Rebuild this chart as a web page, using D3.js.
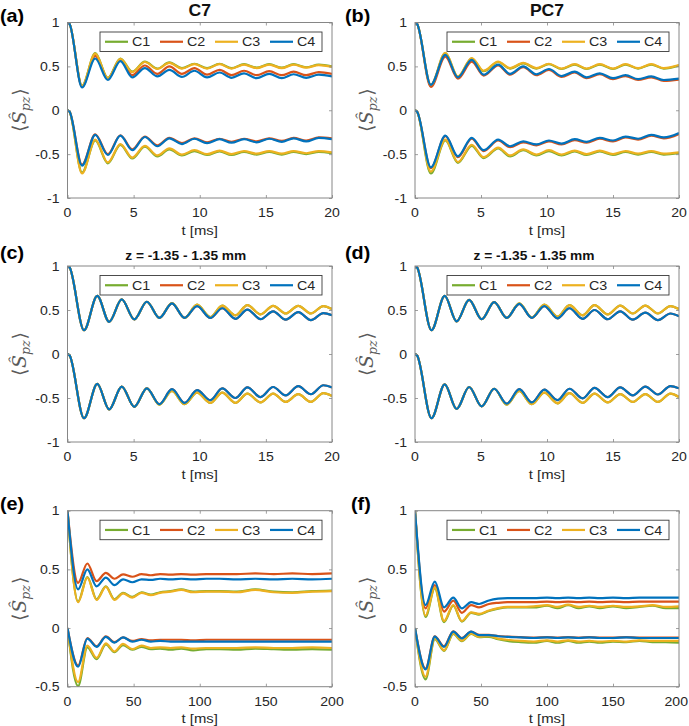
<!DOCTYPE html>
<html><head><meta charset="utf-8">
<script src="https://cdn.jsdelivr.net/npm/d3@7"></script>
<style>body{margin:0;background:#fff}svg{display:block}</style>
</head><body><svg id="chart" width="689" height="726"></svg>
<script>
// ---------- data ----------
const seriesNames = ["C1", "C2", "C3", "C4"];
const seriesColors = ["#77AC30", "#D95319", "#EDB120", "#0072BD"];
const xTicksShort = [0, 5, 10, 15, 20];
const xTicksLong = [0, 50, 100, 150, 200];
const yTicksFull = [-1, -0.5, 0, 0.5, 1];
const yTicksHalf = [-0.5, 0, 0.5, 1];
const yTickText = {"-1": "-1", "-0.5": "-0.5", "0": "0", "0.5": "0.5", "1": "1"};
const panelLabels = ["(a)", "(b)", "(c)", "(d)", "(e)", "(f)"];
const panelTitles = ["C7", "PC7", "z = -1.35 - 1.35 mm", "z = -1.35 - 1.35 mm", "", ""];
const xLabel = "t [ms]";

// (a) C7
const tA = [0, 0.15, 1.1, 2.1, 3.05, 4.0, 4.9, 5.85, 6.8, 7.7, 8.65, 9.6, 10.55, 11.5, 12.4, 13.35, 14.3, 15.25, 16.2, 17.1, 18.05, 19.0, 20];
const aUp1 = [1, 0.985, 0.28, 0.65, 0.37, 0.59, 0.44, 0.555, 0.475, 0.545, 0.48, 0.53, 0.48, 0.53, 0.48, 0.525, 0.485, 0.525, 0.485, 0.525, 0.49, 0.52, 0.5];
const aUp2 = [1, 0.985, 0.27, 0.62, 0.36, 0.575, 0.40, 0.51, 0.415, 0.50, 0.415, 0.48, 0.405, 0.46, 0.40, 0.45, 0.40, 0.445, 0.40, 0.44, 0.40, 0.435, 0.415];
const aUp3 = [1, 0.985, 0.275, 0.645, 0.365, 0.585, 0.435, 0.55, 0.47, 0.54, 0.475, 0.525, 0.475, 0.525, 0.475, 0.52, 0.48, 0.52, 0.48, 0.52, 0.485, 0.515, 0.495];
const aUp4 = [1, 0.985, 0.26, 0.59, 0.345, 0.56, 0.375, 0.48, 0.385, 0.46, 0.38, 0.45, 0.375, 0.43, 0.37, 0.42, 0.365, 0.415, 0.365, 0.41, 0.37, 0.405, 0.385];
const aLo1 = [0, -0.015, -0.71, -0.345, -0.605, -0.395, -0.55, -0.415, -0.525, -0.445, -0.515, -0.465, -0.51, -0.47, -0.51, -0.475, -0.505, -0.475, -0.505, -0.475, -0.5, -0.475, -0.49];
const aLo2 = [0, -0.015, -0.62, -0.275, -0.5, -0.285, -0.445, -0.30, -0.40, -0.315, -0.375, -0.32, -0.365, -0.325, -0.36, -0.325, -0.355, -0.32, -0.35, -0.315, -0.345, -0.31, -0.32];
const aLo3 = [0, -0.015, -0.72, -0.335, -0.595, -0.385, -0.54, -0.405, -0.515, -0.435, -0.505, -0.455, -0.5, -0.46, -0.5, -0.465, -0.495, -0.465, -0.495, -0.465, -0.49, -0.465, -0.48];
const aLo4 = [0, -0.015, -0.63, -0.28, -0.51, -0.29, -0.455, -0.305, -0.41, -0.32, -0.385, -0.325, -0.375, -0.33, -0.37, -0.33, -0.365, -0.325, -0.36, -0.32, -0.355, -0.315, -0.33];

// (b) PC7
const tB = [0, 0.15, 1.2, 2.3, 3.25, 4.3, 5.2, 6.3, 7.2, 8.2, 9.2, 10.15, 11.1, 12.1, 13.0, 14.0, 15.0, 15.95, 16.9, 17.9, 18.85, 20];
const bUp1 = [1, 0.985, 0.285, 0.65, 0.38, 0.59, 0.445, 0.55, 0.475, 0.535, 0.475, 0.525, 0.47, 0.52, 0.47, 0.52, 0.47, 0.52, 0.475, 0.52, 0.475, 0.51];
const bUp2 = [1, 0.985, 0.265, 0.61, 0.36, 0.555, 0.395, 0.51, 0.405, 0.49, 0.40, 0.46, 0.38, 0.43, 0.365, 0.41, 0.355, 0.39, 0.345, 0.375, 0.335, 0.35];
const bUp3 = [1, 0.985, 0.29, 0.655, 0.385, 0.595, 0.45, 0.555, 0.48, 0.54, 0.48, 0.53, 0.475, 0.525, 0.475, 0.525, 0.475, 0.525, 0.48, 0.525, 0.48, 0.515];
const bUp4 = [1, 0.985, 0.29, 0.63, 0.375, 0.575, 0.405, 0.52, 0.415, 0.50, 0.41, 0.47, 0.39, 0.44, 0.375, 0.42, 0.365, 0.40, 0.355, 0.385, 0.345, 0.36];
const bLo1 = [0, -0.015, -0.72, -0.345, -0.6, -0.405, -0.545, -0.435, -0.525, -0.455, -0.515, -0.465, -0.515, -0.47, -0.51, -0.47, -0.51, -0.475, -0.505, -0.475, -0.505, -0.49];
const bLo2 = [0, -0.015, -0.66, -0.295, -0.535, -0.325, -0.465, -0.345, -0.42, -0.365, -0.40, -0.355, -0.39, -0.34, -0.37, -0.325, -0.355, -0.31, -0.335, -0.29, -0.32, -0.27];
const bLo3 = [0, -0.015, -0.70, -0.335, -0.59, -0.395, -0.535, -0.425, -0.515, -0.445, -0.505, -0.455, -0.505, -0.46, -0.5, -0.46, -0.5, -0.465, -0.495, -0.465, -0.495, -0.48];
const bLo4 = [0, -0.015, -0.65, -0.29, -0.525, -0.315, -0.455, -0.335, -0.41, -0.355, -0.39, -0.345, -0.38, -0.33, -0.36, -0.315, -0.345, -0.30, -0.325, -0.28, -0.31, -0.26];

// (c) C7, z = -1.35 - 1.35 mm
const tC = [0, 0.15, 1.25, 2.25, 3.15, 4.1, 5.05, 6.0, 6.95, 7.9, 8.85, 9.8, 10.8, 11.7, 12.7, 13.6, 14.6, 15.55, 16.5, 17.45, 18.4, 19.35, 20];
const cUp1 = [1, 0.985, 0.27, 0.66, 0.366, 0.62, 0.393, 0.594, 0.41, 0.578, 0.41, 0.56, 0.42, 0.55, 0.44, 0.556, 0.45, 0.548, 0.46, 0.548, 0.46, 0.545, 0.51];
const cUp2 = [1, 0.985, 0.27, 0.66, 0.366, 0.62, 0.393, 0.594, 0.41, 0.575, 0.41, 0.545, 0.41, 0.52, 0.40, 0.505, 0.396, 0.485, 0.39, 0.475, 0.385, 0.465, 0.44];
const cUp3 = [1, 0.985, 0.27, 0.66, 0.366, 0.62, 0.393, 0.594, 0.41, 0.578, 0.41, 0.56, 0.42, 0.55, 0.44, 0.556, 0.45, 0.548, 0.46, 0.548, 0.46, 0.545, 0.51];
const cUp4 = [1, 0.985, 0.27, 0.66, 0.366, 0.62, 0.393, 0.594, 0.41, 0.575, 0.41, 0.545, 0.41, 0.52, 0.40, 0.505, 0.396, 0.485, 0.39, 0.475, 0.385, 0.465, 0.44];
const cLo1 = [0, -0.015, -0.73, -0.34, -0.63, -0.37, -0.60, -0.39, -0.575, -0.42, -0.57, -0.44, -0.556, -0.44, -0.556, -0.45, -0.55, -0.45, -0.545, -0.457, -0.545, -0.445, -0.476];
const cLo2 = [0, -0.015, -0.73, -0.34, -0.63, -0.37, -0.60, -0.39, -0.57, -0.40, -0.556, -0.41, -0.525, -0.39, -0.50, -0.38, -0.49, -0.375, -0.47, -0.366, -0.457, -0.355, -0.38];
const cLo3 = [0, -0.015, -0.73, -0.34, -0.63, -0.37, -0.60, -0.39, -0.575, -0.42, -0.57, -0.44, -0.556, -0.44, -0.556, -0.45, -0.55, -0.45, -0.545, -0.457, -0.545, -0.445, -0.476];
const cLo4 = [0, -0.015, -0.73, -0.34, -0.63, -0.37, -0.60, -0.39, -0.57, -0.40, -0.556, -0.41, -0.525, -0.39, -0.50, -0.38, -0.49, -0.375, -0.47, -0.366, -0.457, -0.355, -0.38];

// (d) PC7, z = -1.35 - 1.35 mm
const tD = [0, 0.15, 1.25, 2.25, 3.15, 4.1, 5.05, 6.0, 6.95, 7.9, 8.85, 9.8, 10.8, 11.7, 12.7, 13.6, 14.6, 15.55, 16.5, 17.45, 18.4, 19.35, 20];
const dUp1 = [1, 0.985, 0.27, 0.66, 0.37, 0.615, 0.395, 0.59, 0.41, 0.575, 0.415, 0.56, 0.425, 0.555, 0.44, 0.555, 0.45, 0.55, 0.46, 0.55, 0.46, 0.545, 0.51];
const dUp2 = [1, 0.985, 0.27, 0.66, 0.37, 0.615, 0.395, 0.59, 0.41, 0.57, 0.41, 0.545, 0.405, 0.52, 0.40, 0.50, 0.395, 0.485, 0.39, 0.47, 0.385, 0.46, 0.43];
const dUp3 = [1, 0.985, 0.27, 0.66, 0.37, 0.615, 0.395, 0.59, 0.41, 0.575, 0.415, 0.56, 0.425, 0.555, 0.44, 0.555, 0.45, 0.55, 0.46, 0.55, 0.46, 0.545, 0.51];
const dUp4 = [1, 0.985, 0.27, 0.66, 0.37, 0.615, 0.395, 0.59, 0.41, 0.57, 0.41, 0.545, 0.405, 0.52, 0.40, 0.50, 0.395, 0.485, 0.39, 0.47, 0.385, 0.46, 0.43];
const dLo1 = [0, -0.015, -0.73, -0.345, -0.625, -0.375, -0.595, -0.395, -0.575, -0.42, -0.57, -0.44, -0.56, -0.445, -0.555, -0.45, -0.55, -0.455, -0.545, -0.455, -0.545, -0.45, -0.49];
const dLo2 = [0, -0.015, -0.73, -0.345, -0.625, -0.375, -0.595, -0.395, -0.565, -0.40, -0.55, -0.405, -0.525, -0.395, -0.505, -0.385, -0.49, -0.38, -0.47, -0.37, -0.46, -0.365, -0.39];
const dLo3 = [0, -0.015, -0.73, -0.345, -0.625, -0.375, -0.595, -0.395, -0.575, -0.42, -0.57, -0.44, -0.56, -0.445, -0.555, -0.45, -0.55, -0.455, -0.545, -0.455, -0.545, -0.45, -0.49];
const dLo4 = [0, -0.015, -0.73, -0.345, -0.625, -0.375, -0.595, -0.395, -0.565, -0.40, -0.55, -0.405, -0.525, -0.395, -0.505, -0.385, -0.49, -0.38, -0.47, -0.37, -0.46, -0.365, -0.39];

// (e) C7, long time
const tE = [0, 8, 15, 22, 29, 35.5, 42, 49, 56, 63, 70, 78, 86, 95, 105, 115, 128, 142, 156, 170, 185, 200];
const eUp1 = [1, 0.225, 0.435, 0.245, 0.355, 0.245, 0.30, 0.265, 0.305, 0.285, 0.305, 0.315, 0.33, 0.31, 0.315, 0.315, 0.31, 0.33, 0.31, 0.305, 0.315, 0.32];
const eUp2 = [1, 0.385, 0.55, 0.40, 0.47, 0.42, 0.457, 0.437, 0.46, 0.45, 0.46, 0.455, 0.46, 0.455, 0.46, 0.46, 0.46, 0.465, 0.46, 0.465, 0.46, 0.465];
const eUp3 = [1, 0.22, 0.43, 0.24, 0.35, 0.24, 0.295, 0.26, 0.30, 0.28, 0.30, 0.31, 0.325, 0.305, 0.31, 0.31, 0.305, 0.325, 0.305, 0.30, 0.31, 0.315];
const eUp4 = [1, 0.33, 0.50, 0.355, 0.43, 0.366, 0.415, 0.39, 0.415, 0.41, 0.42, 0.415, 0.42, 0.415, 0.42, 0.42, 0.415, 0.42, 0.415, 0.42, 0.415, 0.42];
const eLo1 = [0, -0.495, -0.165, -0.265, -0.14, -0.205, -0.145, -0.185, -0.16, -0.18, -0.175, -0.185, -0.175, -0.19, -0.18, -0.18, -0.185, -0.175, -0.18, -0.185, -0.18, -0.185];
const eLo2 = [0, -0.32, -0.085, -0.155, -0.07, -0.12, -0.08, -0.11, -0.095, -0.105, -0.10, -0.10, -0.10, -0.105, -0.10, -0.10, -0.10, -0.10, -0.10, -0.10, -0.10, -0.10];
const eLo3 = [0, -0.46, -0.15, -0.255, -0.13, -0.20, -0.135, -0.18, -0.15, -0.17, -0.165, -0.17, -0.165, -0.175, -0.17, -0.17, -0.17, -0.165, -0.17, -0.17, -0.165, -0.17];
const eLo4 = [0, -0.33, -0.09, -0.16, -0.075, -0.125, -0.08, -0.116, -0.10, -0.115, -0.11, -0.115, -0.115, -0.115, -0.115, -0.115, -0.115, -0.115, -0.115, -0.115, -0.115, -0.115];

// (f) PC7, long time
const tF = [0, 8, 15, 22, 29, 35.5, 42.5, 48.5, 56, 63, 70, 80, 90, 100, 108, 116, 124, 132, 140, 150, 160, 170, 180, 190, 200];
const fUp1 = [1, 0.095, 0.34, 0.05, 0.19, 0.055, 0.13, 0.115, 0.145, 0.165, 0.175, 0.175, 0.175, 0.19, 0.17, 0.195, 0.17, 0.185, 0.17, 0.185, 0.17, 0.18, 0.19, 0.17, 0.17];
const fUp2 = [1, 0.168, 0.366, 0.14, 0.233, 0.13, 0.196, 0.176, 0.205, 0.215, 0.22, 0.22, 0.22, 0.225, 0.22, 0.225, 0.22, 0.225, 0.22, 0.225, 0.22, 0.225, 0.225, 0.225, 0.225];
const fUp3 = [1, 0.105, 0.347, 0.06, 0.196, 0.06, 0.134, 0.12, 0.15, 0.17, 0.18, 0.18, 0.185, 0.195, 0.18, 0.2, 0.18, 0.19, 0.18, 0.19, 0.18, 0.185, 0.195, 0.18, 0.185];
const fUp4 = [1, 0.196, 0.395, 0.176, 0.26, 0.168, 0.22, 0.205, 0.235, 0.25, 0.255, 0.255, 0.255, 0.26, 0.255, 0.26, 0.255, 0.26, 0.255, 0.26, 0.255, 0.26, 0.26, 0.26, 0.26];
const fLo1 = [0, -0.437, -0.095, -0.195, -0.05, -0.112, -0.05, -0.078, -0.075, -0.095, -0.11, -0.12, -0.125, -0.11, -0.125, -0.11, -0.125, -0.115, -0.125, -0.115, -0.12, -0.11, -0.12, -0.12, -0.125];
const fLo2 = [0, -0.345, -0.07, -0.155, -0.028, -0.085, -0.03, -0.058, -0.058, -0.068, -0.073, -0.078, -0.082, -0.078, -0.082, -0.078, -0.082, -0.078, -0.082, -0.082, -0.078, -0.082, -0.082, -0.082, -0.082];
const fLo3 = [0, -0.415, -0.088, -0.19, -0.045, -0.108, -0.045, -0.074, -0.07, -0.09, -0.10, -0.11, -0.115, -0.105, -0.115, -0.105, -0.115, -0.11, -0.115, -0.11, -0.115, -0.105, -0.11, -0.11, -0.11];
const fLo4 = [0, -0.352, -0.074, -0.16, -0.03, -0.088, -0.03, -0.06, -0.06, -0.07, -0.075, -0.08, -0.085, -0.08, -0.085, -0.08, -0.085, -0.08, -0.085, -0.085, -0.08, -0.085, -0.085, -0.085, -0.085];

// ---------- layout (positions / styles) ----------
const W = 689;
const COLS = [[67.5, 332], [415, 679]];
const ROWS = [[22.5, 198], [266, 442], [510.7, 686.7]];
const SX = 1.1; // horizontal text stretch
const FONT = "'Liberation Sans', Arial, Helvetica, sans-serif";
const AXIS_COLOR = "#868686";
const TEXT_COLOR = "#262626";

const panels = [
  {t: tA, up: [aUp1, aUp2, aUp3, aUp4], lo: [aLo1, aLo2, aLo3, aLo4], xd: [0, 20], yd: [-1, 1], xt: xTicksShort, yt: yTicksFull, col: 0, row: 0, lab: [0, 16], titleDy: -12.5},
  {t: tB, up: [bUp1, bUp2, bUp3, bUp4], lo: [bLo1, bLo2, bLo3, bLo4], xd: [0, 20], yd: [-1, 1], xt: xTicksShort, yt: yTicksFull, col: 1, row: 0, lab: [345, 16], titleDy: -12.5},
  {t: tC, up: [cUp1, cUp2, cUp3, cUp4], lo: [cLo1, cLo2, cLo3, cLo4], xd: [0, 20], yd: [-1, 1], xt: xTicksShort, yt: yTicksFull, col: 0, row: 1, lab: [0, 252.5], titleDy: -11, titleDx: -14},
  {t: tD, up: [dUp1, dUp2, dUp3, dUp4], lo: [dLo1, dLo2, dLo3, dLo4], xd: [0, 20], yd: [-1, 1], xt: xTicksShort, yt: yTicksFull, col: 1, row: 1, lab: [345, 252.5], titleDy: -11, titleDx: -13},
  {t: tE, up: [eUp1, eUp2, eUp3, eUp4], lo: [eLo1, eLo2, eLo3, eLo4], xd: [0, 200], yd: [-0.5, 1], xt: xTicksLong, yt: yTicksHalf, col: 0, row: 2, lab: [0, 504]},
  {t: tF, up: [fUp1, fUp2, fUp3, fUp4], lo: [fLo1, fLo2, fLo3, fLo4], xd: [0, 200], yd: [-0.5, 1], xt: xTicksLong, yt: yTicksHalf, col: 1, row: 2, lab: [351, 504]}
];

const svg = d3.select("#chart");

function addText(parent, x, y, str, opt) {
  const o = Object.assign({size: 12, anchor: "start", weight: "normal", fill: TEXT_COLOR}, opt || {});
  return parent.append("text")
    .attr("transform", `translate(${x},${y}) scale(${SX},1)`)
    .attr("text-anchor", o.anchor)
    .attr("font-family", FONT)
    .attr("font-size", o.size)
    .attr("font-weight", o.weight)
    .attr("fill", o.fill)
    .text(str);
}

panels.forEach((p, i) => {
  const [L, R] = COLS[p.col];
  const [T, B] = ROWS[p.row];
  const x = d3.scaleLinear().domain(p.xd).range([L, R]);
  const y = d3.scaleLinear().domain(p.yd).range([B, T]);
  const g = svg.append("g");

  // clip
  const cid = "clip" + i;
  svg.append("defs").append("clipPath").attr("id", cid)
    .append("rect").attr("x", L).attr("y", T).attr("width", R - L).attr("height", B - T);

  // curves
  const line = d3.line().x(d => x(d[0])).y(d => y(d[1])).curve(d3.curveMonotoneX);
  const curves = g.append("g").attr("clip-path", `url(#${cid})`);
  [p.up, p.lo].forEach(group => {
    group.forEach((vals, s) => {
      curves.append("path")
        .datum(d3.zip(p.t, vals))
        .attr("d", line)
        .attr("fill", "none")
        .attr("stroke", seriesColors[s])
        .attr("stroke-width", 2.2)
        .attr("stroke-linejoin", "round");
    });
  });

  // axes (ticks inside, mirrored)
  const tl = 3;
  const axB = d3.axisBottom(x).tickValues(p.xt).tickSize(-tl).tickFormat("");
  const axT = d3.axisTop(x).tickValues(p.xt).tickSize(-tl).tickFormat("");
  const axL = d3.axisLeft(y).tickValues(p.yt).tickSize(-tl).tickFormat("");
  const axR = d3.axisRight(y).tickValues(p.yt).tickSize(-tl).tickFormat("");
  [[axB, `translate(0,${B})`], [axT, `translate(0,${T})`], [axL, `translate(${L},0)`], [axR, `translate(${R},0)`]].forEach(([ax, tr]) => {
    const a = g.append("g").attr("transform", tr).call(ax);
    a.select(".domain").remove();
    a.selectAll("line").attr("stroke", AXIS_COLOR).attr("stroke-width", 0.8);
  });
  g.append("rect").attr("x", L).attr("y", T).attr("width", R - L).attr("height", B - T)
    .attr("fill", "none").attr("stroke", AXIS_COLOR).attr("stroke-width", 1);

  // tick labels (kept inside the page)
  p.xt.forEach(v => {
    const t = addText(g, x(v), B + 18.8, String(v), {anchor: "middle", size: 12.8});
    const bb = t.node().getBBox();
    const half = bb.width * SX / 2;
    if (x(v) + half > W - 1) {
      t.attr("transform", `translate(${W - 1 - half},${B + 18.8}) scale(${SX},1)`);
    }
  });
  p.yt.forEach(v => addText(g, L - 8, y(v) + 4.6, yTickText[String(v)], {anchor: "end", size: 12.8}));

  // x label
  addText(g, (L + R) / 2, B + 36.5, xLabel, {anchor: "middle", size: 13.5});

  // y label  <S^_pz>
  const yl = g.append("text")
    .attr("transform", `translate(${L - 42},${(T + B) / 2}) rotate(-90)`)
    .attr("text-anchor", "middle")
    .attr("font-family", "'DejaVu Serif', 'Liberation Serif', serif")
    .attr("font-size", 19)
    .attr("fill", "#5a5a5a");
  yl.append("tspan").attr("font-family", "'DejaVu Sans', sans-serif").attr("font-weight", 200).text("\u27E8");
  yl.append("tspan").attr("font-style", "italic").attr("dx", 1).text("\u015C");
  yl.append("tspan").attr("font-style", "italic").attr("font-size", 12.5).attr("dy", 4).text("pz");
  yl.append("tspan").attr("dy", -4).attr("dx", 1).attr("font-family", "'DejaVu Sans', sans-serif").text("\u27E9");

  // title
  if (panelTitles[i]) {
    const big = p.row === 0;
    addText(g, (L + R) / 2 + (p.titleDx || 0), T + p.titleDy + (big ? 5.8 : 4.6), panelTitles[i],
      {anchor: "middle", size: big ? 16 : 12.5, weight: "bold", fill: "#111"});
  }
  // panel label
  addText(g, p.lab[0], p.lab[1] + 6.3, panelLabels[i], {size: 18, weight: "bold", fill: "#000"});

  // legend
  const lw = 222, lh = 19.5;
  const lx = R - 10 - lw, ly = T + 9.5;
  const lg = g.append("g");
  lg.append("rect").attr("x", lx).attr("y", ly).attr("width", lw).attr("height", lh)
    .attr("fill", "#fff").attr("stroke", "#3a3a3a").attr("stroke-width", 0.9);
  seriesNames.forEach((n, s) => {
    const ox = lx + 5 + s * 55;
    lg.append("line").attr("x1", ox).attr("x2", ox + 23).attr("y1", ly + lh / 2).attr("y2", ly + lh / 2)
      .attr("stroke", seriesColors[s]).attr("stroke-width", 2.2);
    addText(lg, ox + 27, ly + lh / 2 + 4.7, n, {size: 13});
  });
});
</script>
</body></html>
